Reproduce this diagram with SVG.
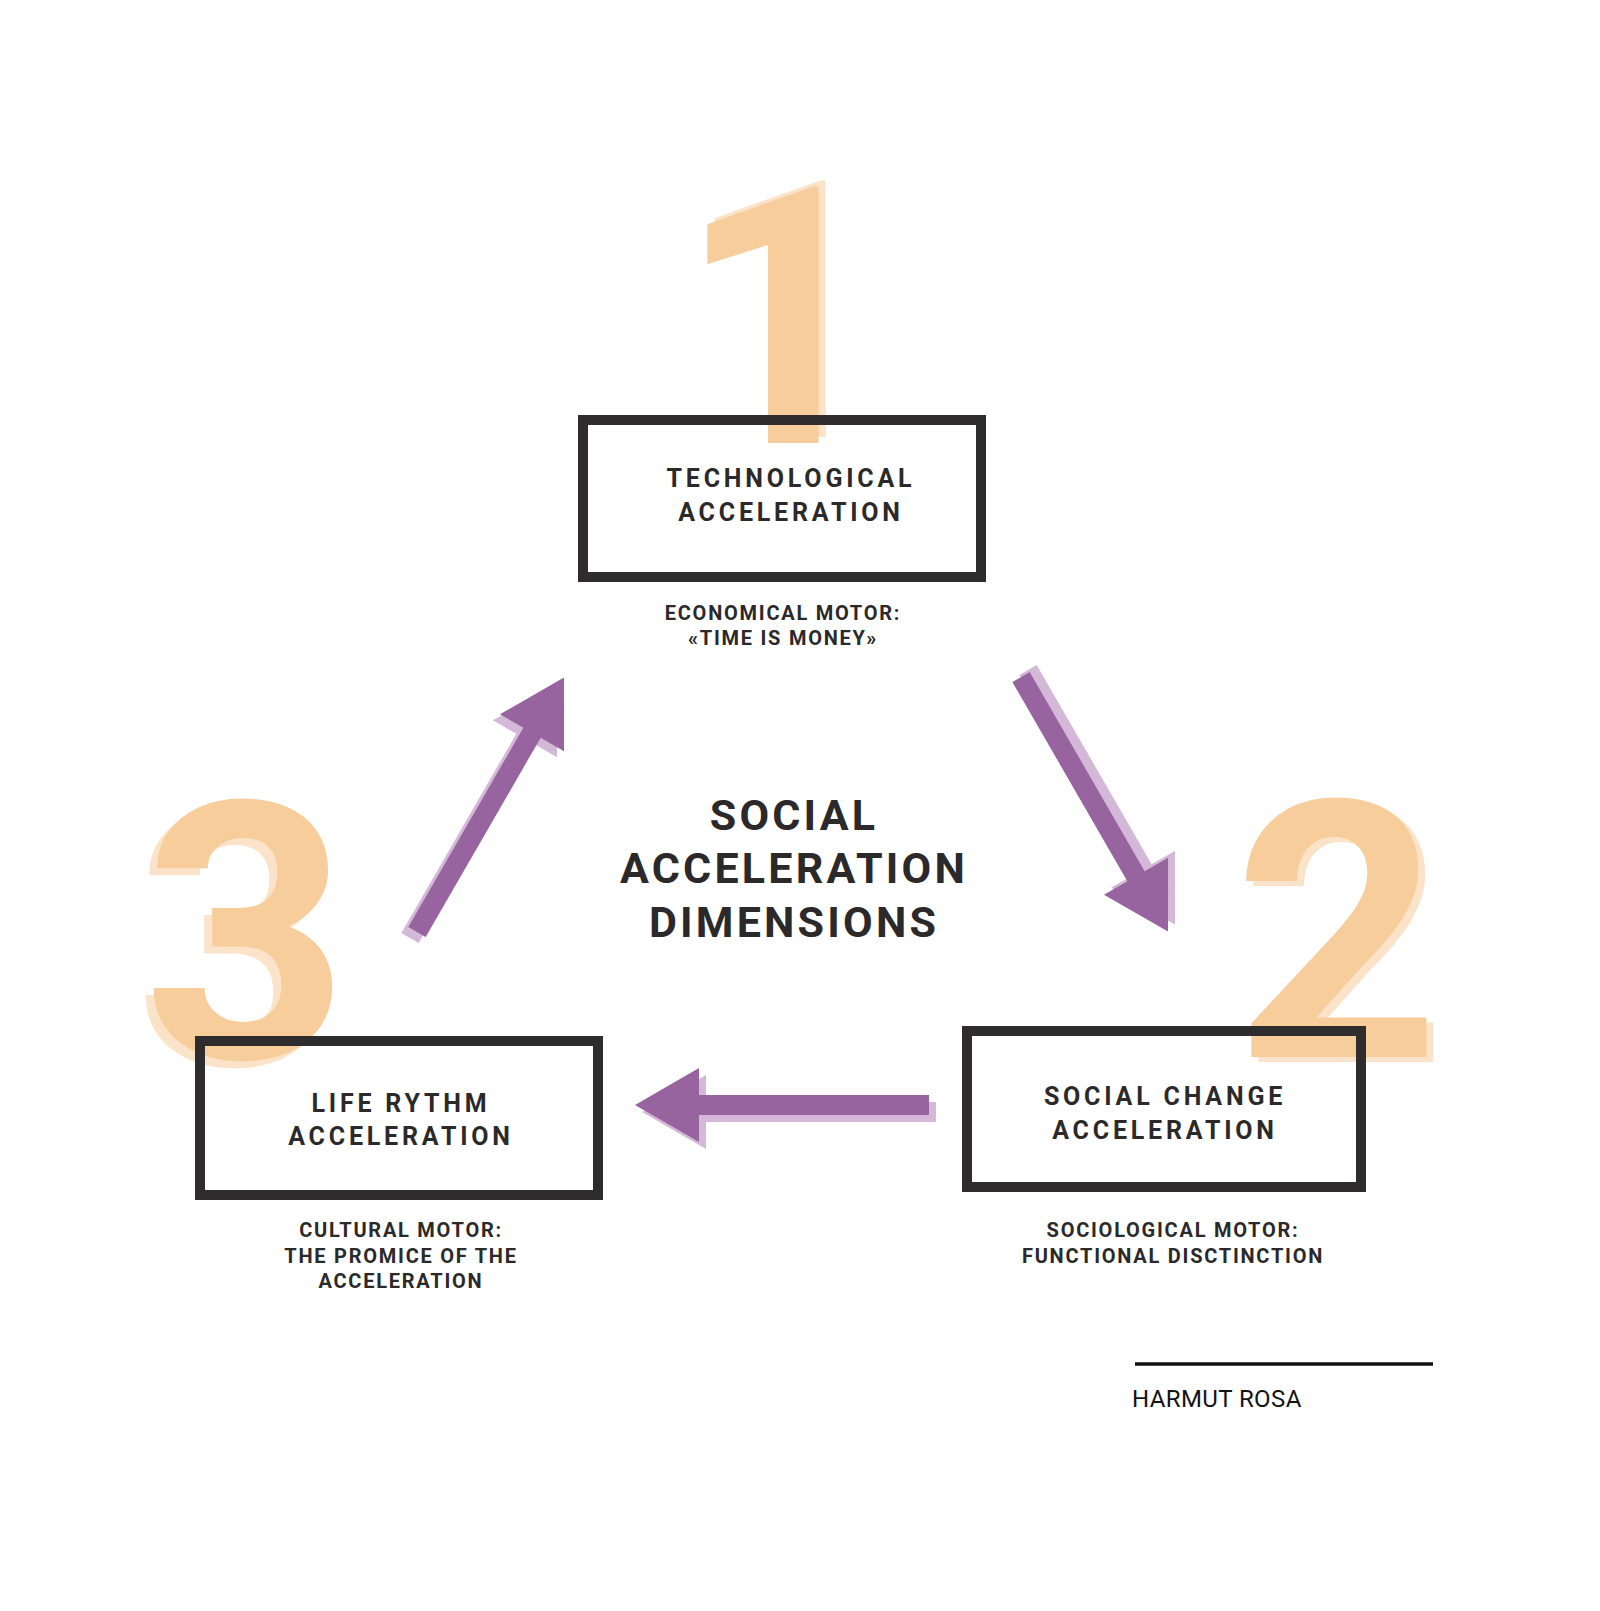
<svg xmlns="http://www.w3.org/2000/svg" width="1600" height="1611" viewBox="0 0 1600 1611">
<defs>
<style>
.num{font-family:Roboto,"Liberation Sans",sans-serif;font-weight:700;font-size:360px;text-anchor:middle}
.numS{fill:#fbe3c9}
.numM{fill:#f7cd9b}
.box{fill:none;stroke:#2e2c2c;stroke-width:10}
.bt{font-family:Roboto,"Liberation Sans",sans-serif;font-weight:700;font-size:25px;letter-spacing:3.8px;fill:#2b2929;text-anchor:middle}
.title{font-family:Roboto,"Liberation Sans",sans-serif;font-weight:700;font-size:43px;letter-spacing:3.2px;fill:#2b2929;text-anchor:middle}
.sub{font-family:Roboto,"Liberation Sans",sans-serif;font-weight:700;font-size:20px;letter-spacing:1.75px;fill:#2b2929;text-anchor:middle}
.author{font-family:Roboto,"Liberation Sans",sans-serif;font-weight:400;font-size:24px;letter-spacing:0.4px;fill:#141414}
.arS{fill:#d4b8d7}
.arM{fill:#98649f}
</style>
<polygon id="arrow" points="0,-10 230,-10 230,-37 294,0 230,37 230,10 0,10"/>
</defs>
<rect width="1600" height="1611" fill="#ffffff"/>

<g id="digit-1">
<text class="num numS" x="788" y="437">1</text>
<text class="num numM" x="781" y="443">1</text>
</g>
<g id="digit-2">
<text class="num numS" x="1344" y="1062">2</text>
<text class="num numM" x="1337" y="1057">2</text>
</g>
<g id="digit-3">
<text class="num numS" x="238" y="1065">3</text>
<text class="num numM" x="246" y="1058">3</text>
</g>

<g id="node-technological">
<rect class="box" x="583" y="420" width="398" height="157"/>
<text class="bt" x="791" y="487">TECHNOLOGICAL</text>
<text class="bt" x="791" y="521">ACCELERATION</text>
<text class="sub" x="783" y="620">ECONOMICAL MOTOR:</text>
<text class="sub" x="783" y="645">«TIME IS MONEY»</text>
</g>

<g id="node-social-change">
<rect class="box" x="967" y="1031" width="394" height="156"/>
<text class="bt" x="1165" y="1105">SOCIAL CHANGE</text>
<text class="bt" x="1165" y="1139">ACCELERATION</text>
<text class="sub" x="1173" y="1237">SOCIOLOGICAL MOTOR:</text>
<text class="sub" x="1173" y="1263">FUNCTIONAL DISCTINCTION</text>
</g>

<g id="node-life-rythm">
<rect class="box" x="200" y="1041" width="398" height="154"/>
<text class="bt" x="401" y="1112">LIFE RYTHM</text>
<text class="bt" x="401" y="1145">ACCELERATION</text>
<text class="sub" x="401" y="1237">CULTURAL MOTOR:</text>
<text class="sub" x="401" y="1263">THE PROMICE OF THE</text>
<text class="sub" x="401" y="1288">ACCELERATION</text>
</g>

<g id="center-title">
<text class="title" x="794" y="830">SOCIAL</text>
<text class="title" x="794" y="883">ACCELERATION</text>
<text class="title" x="794" y="937">DIMENSIONS</text>
</g>

<g id="connectors">
<use href="#arrow" class="arS" transform="translate(1028,670) rotate(60)"/>
<use href="#arrow" class="arM" transform="translate(1021,677) rotate(60)"/>
<use href="#arrow" class="arS" transform="translate(936,1112) rotate(180)"/>
<use href="#arrow" class="arM" transform="translate(929,1105) rotate(180)"/>
<use href="#arrow" class="arS" transform="translate(410,938) rotate(-60)"/>
<use href="#arrow" class="arM" transform="translate(417,932) rotate(-60)"/>
</g>

<g id="credit">
<line x1="1135" y1="1364" x2="1433" y2="1364" stroke="#111111" stroke-width="3.5"/>
<text class="author" x="1132" y="1407">HARMUT ROSA</text>
</g>
</svg>
